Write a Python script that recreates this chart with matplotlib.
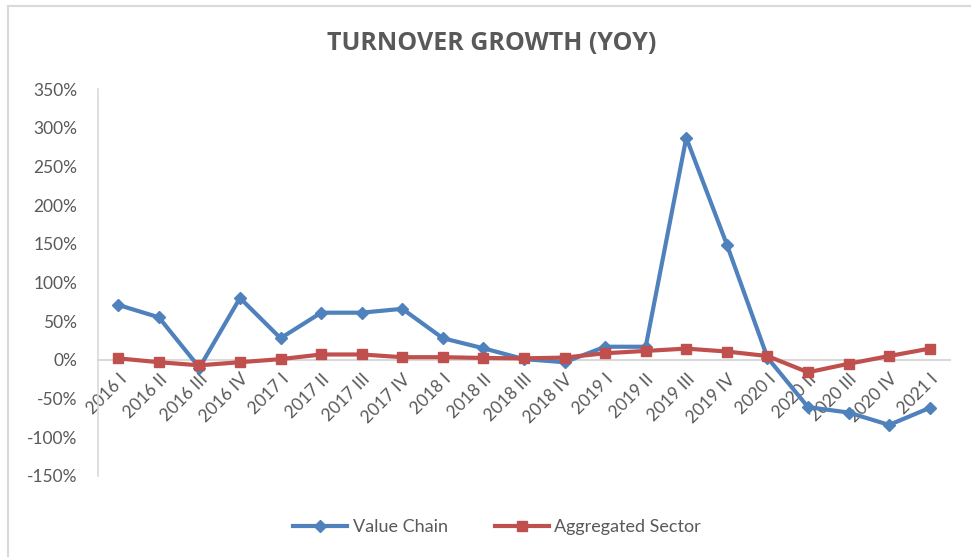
import matplotlib
matplotlib.use("Agg")
import matplotlib.pyplot as plt
from matplotlib.lines import Line2D
from matplotlib.ticker import FuncFormatter

categories = ["2016 I", "2016 II", "2016 III", "2016 IV",
              "2017 I", "2017 II", "2017 III", "2017 IV",
              "2018 I", "2018 II", "2018 III", "2018 IV",
              "2019 I", "2019 II", "2019 III", "2019 IV",
              "2020 I", "2020 II", "2020 III", "2020 IV",
              "2021 I"]
value_chain = [71, 55, -10, 80, 28, 61, 61, 66, 28, 15, 1, -3,
               17, 17, 287, 149, 3, -61, -68, -84, -62]
aggregated = [2, -3, -7, -3, 1, 7, 7, 3.5, 3.5, 2.5, 2, 3,
              8.6, 11.6, 14.6, 10.8, 5, -16, -5, 5, 14.6]
yticks = [-150, -100, -50, 0, 50, 100, 150, 200, 250, 300, 350]

W, H = 971, 557
fig = plt.figure(figsize=(W / 100, H / 100), dpi=100)
plt.rcParams['font.family'] = ['Lato', 'DejaVu Sans']

left, right, top, bottom = 98, 950, 89, 476
ax = fig.add_axes([left / W, 1 - bottom / H, (right - left) / W, (bottom - top) / H])

blue = "#4F81BD"
red = "#C0504D"
text_col = "#595959"

x = list(range(len(categories)))
ax.plot(x, value_chain, color=blue, lw=3, marker="D", ms=6, zorder=3,
        label="Value Chain")
ax.plot(x, aggregated, color=red, lw=3, marker="s", ms=7.5, zorder=4,
        label="Aggregated Sector")

ax.set_xlim(-0.5, len(categories) - 0.5)
ax.set_ylim(-150, 350)
ax.set_yticks(yticks)
ax.yaxis.set_major_formatter(FuncFormatter(lambda v, p: f"{int(v)}%"))
ax.tick_params(axis="y", length=0, labelsize=12.5, colors=text_col, pad=15)

for s in ["top", "right"]:
    ax.spines[s].set_visible(False)
ax.spines["left"].set_color("#D9D9D9")
ax.spines["left"].set_linewidth(1.2)
ax.spines["bottom"].set_position(("data", 0))
ax.spines["bottom"].set_color("#D9D9D9")
ax.spines["bottom"].set_linewidth(1.5)
ax.spines["bottom"].set_zorder(1)

ax.set_xticks(x)
ax.set_xticklabels(categories, rotation=45, ha="right", rotation_mode="anchor",
                   fontsize=12.5, color=text_col)
ax.tick_params(axis="x", length=0, pad=8)
for lbl in ax.get_xticklabels():
    lbl.set_zorder(5)

fig.text(492 / W, 1 - 43 / H, "TURNOVER GROWTH (YOY)", ha="center", va="center",
         fontsize=18, fontweight="bold", color=text_col,
         family=["Open Sans", "DejaVu Sans"])

handles = [Line2D([0], [0], color=blue, lw=3, marker="D", ms=6),
           Line2D([0], [0], color=red, lw=3, marker="s", ms=7.5)]
fig.legend(handles, ["Value Chain", "Aggregated Sector"], loc="center",
           bbox_to_anchor=(497 / W, 1 - 527 / H), ncol=2, frameon=False,
           fontsize=13, labelcolor=text_col, handlelength=3.0,
           handletextpad=0.3, columnspacing=2.6)

# chart border (left and top edges)
fig.add_artist(Line2D([8 / W, 8 / W], [0, 1 - 6 / H], color="#D9D9D9", lw=1.5,
                      transform=fig.transFigure))
fig.add_artist(Line2D([8 / W, 1], [1 - 6 / H, 1 - 6 / H], color="#D9D9D9", lw=1.5,
                      transform=fig.transFigure))

fig.savefig("out.png", dpi=100)
